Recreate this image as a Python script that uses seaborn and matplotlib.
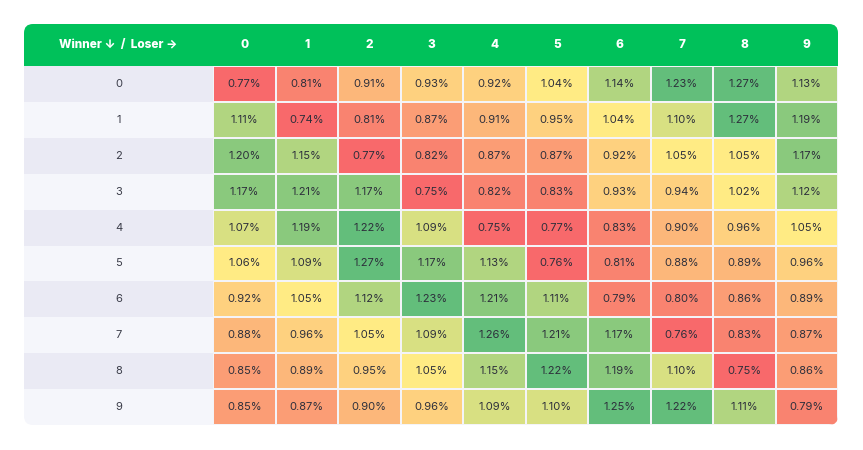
import numpy as np
import pandas as pd
import matplotlib
matplotlib.use('Agg')
import matplotlib.pyplot as plt
import seaborn as sns
from matplotlib.colors import ListedColormap, BoundaryNorm
from matplotlib.patches import FancyBboxPatch, Rectangle

# данные: доля пар (победитель, проигравший), %
winners = ['0', '1', '2', '3', '4', '5', '6', '7', '8', '9']
losers = ['0', '1', '2', '3', '4', '5', '6', '7', '8', '9']
row0 = [0.77, 0.81, 0.91, 0.93, 0.92, 1.04, 1.14, 1.23, 1.27, 1.13]
row1 = [1.11, 0.74, 0.81, 0.87, 0.91, 0.95, 1.04, 1.10, 1.27, 1.19]
row2 = [1.20, 1.15, 0.77, 0.82, 0.87, 0.87, 0.92, 1.05, 1.05, 1.17]
row3 = [1.17, 1.21, 1.17, 0.75, 0.82, 0.83, 0.93, 0.94, 1.02, 1.12]
row4 = [1.07, 1.19, 1.22, 1.09, 0.75, 0.77, 0.83, 0.90, 0.96, 1.05]
row5 = [1.06, 1.09, 1.27, 1.17, 1.13, 0.76, 0.81, 0.88, 0.89, 0.96]
row6 = [0.92, 1.05, 1.12, 1.23, 1.21, 1.11, 0.79, 0.80, 0.86, 0.89]
row7 = [0.88, 0.96, 1.05, 1.09, 1.26, 1.21, 1.17, 0.76, 0.83, 0.87]
row8 = [0.85, 0.89, 0.95, 1.05, 1.15, 1.22, 1.19, 1.10, 0.75, 0.86]
row9 = [0.85, 0.87, 0.90, 0.96, 1.09, 1.10, 1.25, 1.22, 1.11, 0.79]

df = pd.DataFrame([row0, row1, row2, row3, row4, row5, row6, row7, row8, row9],
                  index=winners, columns=losers)
labels = df.apply(lambda col: col.map(lambda v: f'{v:.2f}%'))

# ступенчатая шкала красный -> жёлтый -> зелёный
colors = ['#f8696b', '#f98370', '#fb9d75', '#fcb77a', '#fed17f',
          '#ffeb84', '#d8e082', '#b1d580', '#8ac97d', '#63be7b']
bounds = [0.70, 0.78, 0.845, 0.875, 0.915, 0.99, 1.065, 1.105, 1.16, 1.215, 1.30]
cmap = ListedColormap(colors)
norm = BoundaryNorm(bounds, cmap.N)

FONT = ['Inter', 'DejaVu Sans']
plt.rcParams['font.family'] = FONT

W, H = 863, 450
fig = plt.figure(figsize=(W / 100, H / 100), dpi=100)
fig.patch.set_facecolor('white')

# фон карточки (пиксельные координаты)
bg = fig.add_axes([0, 0, 1, 1])
bg.set_xlim(0, W)
bg.set_ylim(H, 0)
bg.axis('off')

x0, y0, x1, y1 = 24, 24, 838, 425
head_h = 42
lab_w = 189
row_h = (y1 - y0 - head_h) / len(winners)

card = FancyBboxPatch((x0, y0), x1 - x0, y1 - y0,
                      boxstyle='round,pad=0,rounding_size=9',
                      transform=bg.transData, facecolor='none', edgecolor='none')
bg.add_patch(card)

header = Rectangle((x0, y0), x1 - x0, head_h, facecolor='#00c15a', edgecolor='none')
bg.add_patch(header)
header.set_clip_path(card)

for i in range(len(winners)):
    band = Rectangle((x0, y0 + head_h + i * row_h), lab_w, row_h,
                     facecolor='#eaeaf4' if i % 2 == 0 else '#f5f6fb', edgecolor='none')
    bg.add_patch(band)
    band.set_clip_path(card)

bg.text(x0 + lab_w / 2, y0 + head_h / 2, 'Winner ↓  /  Loser →', color='white',
        fontsize=8.5, fontweight='heavy', ha='center', va='center', family=FONT)

# сама тепловая карта
hax = fig.add_axes([(x0 + lab_w) / W, (H - y1) / H,
                    (x1 - x0 - lab_w) / W, (y1 - y0 - head_h) / H])
sns.heatmap(df, ax=hax, cmap=cmap, norm=norm, annot=labels, fmt='', cbar=False,
            linewidths=1.3, linecolor='#f4f4f8',
            annot_kws={'fontsize': 8, 'color': '#2d2f3b'})
hax.collections[0].set_clip_path(card)

hax.xaxis.tick_top()
hax.set_xticklabels(losers, color='white', fontweight='heavy', fontsize=8.5)
hax.tick_params(axis='x', length=0, pad=11)
hax.set_yticklabels(winners, rotation=0, ha='center', color='#3a3c48', fontsize=8)
hax.tick_params(axis='y', length=0, pad=(lab_w / 2) * 0.72)
hax.set_xlabel('')
hax.set_ylabel('')
for s in hax.spines.values():
    s.set_visible(False)

plt.savefig('out.png', dpi=100, facecolor='white')
